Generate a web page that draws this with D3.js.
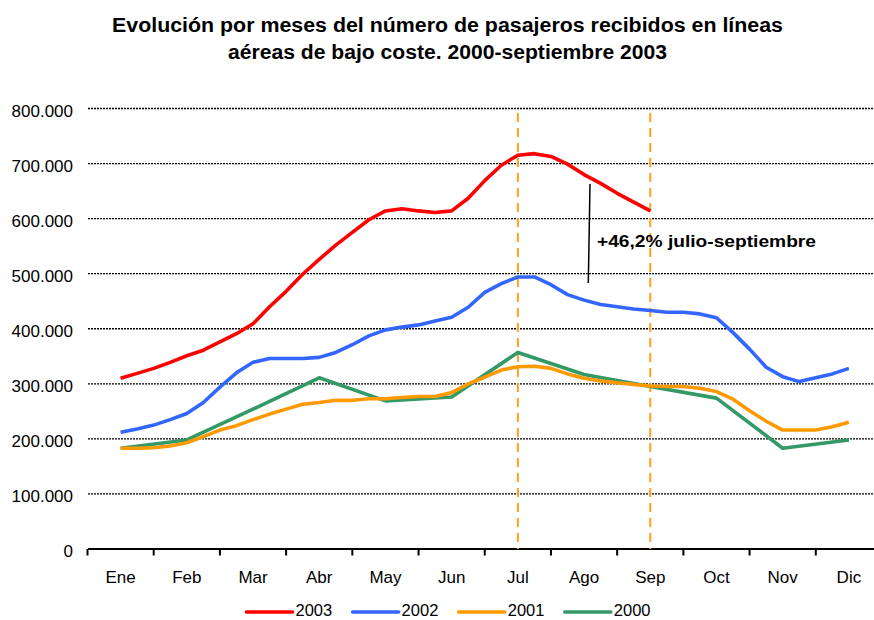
<!DOCTYPE html>
<html>
<head>
<meta charset="utf-8">
<script src="https://cdn.jsdelivr.net/npm/d3@7"></script>
<style>
  body { margin: 0; background: #fff; }
  svg { display: block; font-family: "Liberation Sans", Arial, sans-serif; }
</style>
</head>
<body>
<svg id="chart" width="874" height="620"></svg>
<script>
// month categories and y ticks
var months = ['Ene', 'Feb', 'Mar', 'Abr', 'May', 'Jun', 'Jul', 'Ago', 'Sep', 'Oct', 'Nov', 'Dic'];
var yTicks = [0, 100000, 200000, 300000, 400000, 500000, 600000, 700000, 800000];

// passengers (thousands), read every quarter of a month starting at Ene
var pax2003 = [310, 319, 328, 339, 351, 361, 376, 391, 409, 440, 468, 499, 526, 552, 575, 598,
               614, 618, 614, 611, 614, 637, 669, 697, 715, 718, 713, 699, 680, 664, 646, 630, 614];
var pax2002 = [212, 218, 225, 235, 246, 266, 294, 320, 339, 346, 346, 346, 348, 357, 371, 387,
               398, 403, 407, 414, 421, 439, 466, 482, 494, 494, 480, 462, 452, 444, 440, 436,
               433, 430, 430, 427, 420, 393, 363, 330, 313, 304, 311, 318, 328];
var pax2001 = [183, 183, 184, 187, 193, 204, 216, 224, 235, 245, 254, 263, 266, 270, 270, 273,
               273, 275, 277, 277, 284, 300, 312, 325, 331, 332, 328, 318, 310, 305, 302, 299,
               296, 295, 295, 292, 286, 272, 251, 232, 216, 216, 216, 222, 230];
// one value per month
var pax2000 = [183, 198, 254, 311, 269, 276, 357, 317, 295, 274, 183, 198];

var seriesNames = ['2003', '2002', '2001', '2000'];
var seriesColors = ['#ff0000', '#3366ff', '#ff9900', '#339966'];
var seriesSteps = [0.25, 0.25, 0.25, 1];
var seriesValues = [pax2003, pax2002, pax2001, pax2000];

// months marked by the dashed lines
var markedMonths = ['Jul', 'Sep'];
var titleLines = ['Evolución por meses del número de pasajeros recibidos en líneas',
                  'aéreas de bajo coste. 2000-septiembre 2003'];
var noteText = '+46,2% julio-septiembre';

var svg = d3.select('#chart');
var W = 874;

var x = d3.scaleLinear().domain([-0.5, 11.5]).range([87.5, 882]);
var y = d3.scaleLinear().domain([0, 800000]).range([549, 108.5]);

var es = d3.formatLocale({ decimal: ',', thousands: '.', grouping: [3], currency: ['', ' €'] });
var fmt = es.format(',d');

svg.append('defs').append('clipPath').attr('id', 'clip')
    .append('rect').attr('x', 0).attr('y', 0).attr('width', W).attr('height', 620);

// title (bold text in the original is drawn wider than the font, hence textLength)
var titleWidths = [671, 439];
svg.append('g')
    .selectAll('text')
    .data(titleLines)
    .enter()
    .append('text')
    .attr('x', 447.5)
    .attr('y', function (d, i) { return 32 + i * 27; })
    .attr('text-anchor', 'middle')
    .attr('textLength', function (d, i) { return titleWidths[i]; })
    .attr('lengthAdjust', 'spacingAndGlyphs')
    .style('font-size', '19.5px')
    .style('font-weight', 'bold')
    .text(function (d) { return d; });

// gridlines
svg.append('g')
    .selectAll('line')
    .data(yTicks.filter(function (d) { return d > 0; }))
    .enter()
    .append('line')
    .attr('x1', 88)
    .attr('x2', W)
    .attr('y1', function (d) { return y(d); })
    .attr('y2', function (d) { return y(d); })
    .attr('stroke', '#000')
    .attr('stroke-width', 1.3)
    .attr('stroke-dasharray', '2,1');

// y labels (no axis line)
var yAxis = svg.append('g')
    .attr('transform', 'translate(88,0)')
    .call(d3.axisLeft(y).tickValues(yTicks).tickFormat(fmt).tickSize(0).tickPadding(15));
yAxis.select('.domain').remove();
yAxis.selectAll('text')
    .attr('dy', '0.45em')
    .style('font-size', '17px')
    .style('font-family', '"Liberation Sans", Arial, sans-serif')
    .attr('fill', '#000');

// x axis: line, ticks on month boundaries, labels at centres
var xg = svg.append('g');
xg.append('line')
    .attr('x1', 88).attr('x2', W)
    .attr('y1', y(0)).attr('y2', y(0))
    .attr('stroke', '#000').attr('stroke-width', 2);
xg.selectAll('line.tick')
    .data(d3.range(months.length + 1))
    .enter()
    .append('line')
    .attr('class', 'tick')
    .attr('x1', function (i) { return x(i - 0.5); })
    .attr('x2', function (i) { return x(i - 0.5); })
    .attr('y1', y(0))
    .attr('y2', y(0) + 6.5)
    .attr('stroke', '#000').attr('stroke-width', 2);
xg.selectAll('text')
    .data(months)
    .enter()
    .append('text')
    .attr('x', function (d, i) { return x(i); })
    .attr('y', 583)
    .attr('text-anchor', 'middle')
    .style('font-size', '17px')
    .text(function (d) { return d; });

// dashed markers
svg.append('g')
    .selectAll('line')
    .data(markedMonths)
    .enter()
    .append('line')
    .attr('x1', function (d) { return x(months.indexOf(d)); })
    .attr('x2', function (d) { return x(months.indexOf(d)); })
    .attr('y1', 113)
    .attr('y2', y(0))
    .attr('stroke', '#ffa020')
    .attr('stroke-width', 2)
    .attr('stroke-dasharray', '9,6');

// series lines, 2003 first so 2000 ends up on top
var line = d3.line()
    .x(function (d) { return x(d.m); })
    .y(function (d) { return y(d.v * 1000); });

[3, 2, 1, 0].forEach(function (k) {
    var pts = seriesValues[k].map(function (v, i) { return { m: i * seriesSteps[k], v: v }; });
    svg.append('path')
        .datum(pts)
        .attr('clip-path', 'url(#clip)')
        .attr('fill', 'none')
        .attr('stroke', seriesColors[k])
        .attr('stroke-width', 3.6)
        .attr('stroke-linejoin', 'round')
        .attr('d', line);
});

// annotation
svg.append('line')
    .attr('x1', 590).attr('y1', 184)
    .attr('x2', 588.3).attr('y2', 283)
    .attr('stroke', '#000').attr('stroke-width', 1.5);
svg.append('text')
    .attr('x', 597)
    .attr('y', 247)
    .attr('textLength', 219)
    .attr('lengthAdjust', 'spacingAndGlyphs')
    .style('font-size', '17px')
    .style('font-weight', 'bold')
    .text(noteText);

// legend
var legend = svg.append('g').attr('transform', 'translate(246.5,610.5)');
var item = legend.selectAll('g')
    .data(seriesNames)
    .enter()
    .append('g')
    .attr('transform', function (d, i) { return 'translate(' + (i * 106.1) + ',0)'; });
item.append('line')
    .attr('x1', 0).attr('x2', 46)
    .attr('y1', 1.5).attr('y2', 1.5)
    .attr('stroke', function (d, i) { return seriesColors[i]; })
    .attr('stroke-width', 3.6)
    .attr('stroke-linecap', 'round');
item.append('text')
    .attr('x', 49)
    .attr('dy', '0.33em')
    .style('font-size', '16.5px')
    .text(function (d) { return d; });
</script>
</body>
</html>
